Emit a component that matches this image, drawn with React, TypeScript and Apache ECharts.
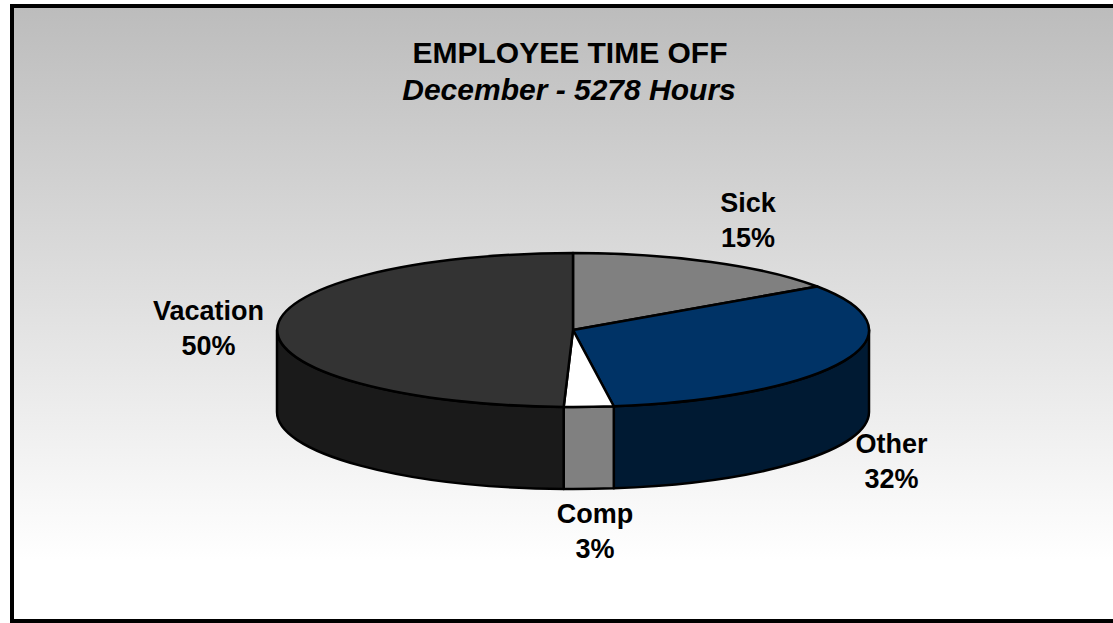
import React, { useEffect, useRef } from "react";
import * as echarts from "echarts";

const categories = ["Sick", "Other", "Comp", "Vacation"];
const shares = [15.45, 32.35, 2.7, 49.5];
const titleLines = ["EMPLOYEE TIME OFF", "December - 5278 Hours"];

const topColors = ["#808080", "#003366", "#ffffff", "#333333"];
const wallColors = ["#404040", "#001a33", "#808080", "#1a1a1a"];
const labelAnchors = [
  [748, 220],
  [891.5, 461],
  [595, 531],
  [208.5, 328],
];

const CX = 573;
const CY = 330;
const RX = 296;
const RY = 77;
const DEPTH = 82;
const FONT = '"Liberation Sans", Arial, sans-serif';

const px = (deg: number) => CX + RX * Math.sin((deg * Math.PI) / 180);
const py = (deg: number) => CY - RY * Math.cos((deg * Math.PI) / 180);
const n = (v: number) => v.toFixed(2);

function topPath(a: number, b: number) {
  const large = b - a > 180 ? 1 : 0;
  return `M${CX} ${CY}L${n(px(a))} ${n(py(a))}A${RX} ${RY} 0 ${large} 1 ${n(px(b))} ${n(py(b))}Z`;
}

function wallPath(a: number, b: number) {
  return (
    `M${n(px(a))} ${n(py(a))}A${RX} ${RY} 0 0 1 ${n(px(b))} ${n(py(b))}` +
    `L${n(px(b))} ${n(py(b) + DEPTH)}A${RX} ${RY} 0 0 0 ${n(px(a))} ${n(py(a) + DEPTH)}Z`
  );
}

export default function App() {
  const ref = useRef<HTMLDivElement>(null);
  useEffect(() => {
    document.body.style.margin = "0";
    const chart = echarts.init(ref.current!, undefined, { renderer: "svg" });
    const total = shares.reduce((s, v) => s + v, 0);
    const stops: number[] = [0];
    shares.forEach((v, i) => stops.push(stops[i] + (v / total) * 360));

    chart.setOption({
      animation: false,
      backgroundColor: "#ffffff",
      graphic: [
        {
          type: "rect",
          z: -10,
          shape: { x: 12, y: 6, width: 1120, height: 615 },
          style: {
            fill: new echarts.graphic.LinearGradient(0, 0, 0, 1, [
              { offset: 0, color: "#bcbcbc" },
              { offset: 0.9, color: "#ffffff" },
              { offset: 1, color: "#ffffff" },
            ]),
            stroke: "#000000",
            lineWidth: 4,
          },
        },
        {
          type: "text",
          style: {
            text: titleLines[0],
            x: 570,
            y: 52,
            align: "center",
            verticalAlign: "middle",
            font: `bold 30px ${FONT}`,
            fill: "#000000",
          },
        },
        {
          type: "text",
          style: {
            text: titleLines[1],
            x: 569,
            y: 89,
            align: "center",
            verticalAlign: "middle",
            font: `italic bold 30px ${FONT}`,
            fill: "#000000",
          },
        },
      ],
      series: [
        {
          type: "custom",
          coordinateSystem: "none",
          data: shares,
          renderItem: (params: any) => {
            const i = params.dataIndex;
            const a = stops[i];
            const b = stops[i + 1];
            const children: any[] = [];
            const wa = Math.max(a, 90);
            const wb = Math.min(b, 270);
            if (wb > wa) {
              children.push({
                type: "path",
                shape: { pathData: wallPath(wa, wb) },
                style: { fill: wallColors[i], stroke: "#000000", lineWidth: 2.5, lineJoin: "round" },
              });
            }
            children.push({
              type: "path",
              shape: { pathData: topPath(a, b) },
              style: { fill: topColors[i], stroke: "#000000", lineWidth: 2.5, lineJoin: "round" },
            });
            children.push({
              type: "text",
              z2: 10,
              style: {
                text: `${categories[i]}\n${Math.round((shares[i] / total) * 100)}%`,
                x: labelAnchors[i][0],
                y: labelAnchors[i][1],
                align: "center",
                verticalAlign: "middle",
                font: `bold 27px ${FONT}`,
                lineHeight: 35,
                fill: "#000000",
              },
            });
            return { type: "group", children };
          },
        },
      ],
    });
    return () => chart.dispose();
  }, []);
  return <div ref={ref} style={{ width: 1113, height: 623 }} />;
}
